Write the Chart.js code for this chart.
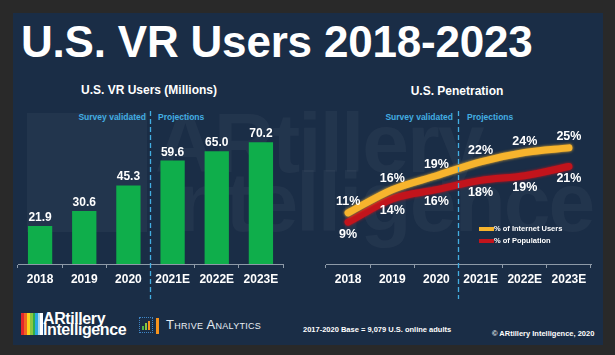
<!DOCTYPE html>
<html>
<head>
<meta charset="utf-8">
<script src="https://cdn.jsdelivr.net/npm/chart.js@4"></script>
<style>
  html, body { margin:0; padding:0; }
  body { width:615px; height:355px; background:#292929; position:relative; overflow:hidden;
         font-family:"Liberation Sans", Arial, Helvetica, sans-serif; }
  .abs { position:absolute; white-space:nowrap; }
  #panel { left:13px; top:13px; width:590px; height:332px; background:#1a2d46; }
  .wm { color:rgba(255,255,255,0.038); font-weight:bold; font-size:84px; line-height:84px; letter-spacing:-2px; }
  #wmblock { left:27px; top:113px; width:120px; height:119px; background:rgba(255,255,255,0.04); }
  #title { left:21px; top:20px; font-size:44px; line-height:44px; font-weight:bold; color:#fff; letter-spacing:-0.2px; }
  .sub { font-size:12px; line-height:12px; font-weight:bold; color:#fff; text-align:center; width:200px; }
  .phase { font-size:8.5px; line-height:8.5px; font-weight:bold; color:#43aee2; }
  .foot { font-size:7.5px; line-height:7.5px; font-weight:bold; color:#fff; }
  canvas { position:absolute; }
  #stripes { left:21px; top:313px; width:22px; height:22px;
    background:linear-gradient(to right,#e3262b 0,#e3262b 3px,#f26522 3px,#f26522 6px,#f7d51d 6px,#f7d51d 9px,#8cc63f 9px,#8cc63f 12px,#2fae4a 12px,#2fae4a 14px,#29a9e0 14px,#29a9e0 17px,#a8d8f0 17px,#a8d8f0 19px,#ffffff 19px,#ffffff 22px); }
  .logo { font-size:16px; line-height:16px; font-weight:bold; color:#fff; letter-spacing:-0.4px; }
  #thrivebox { left:139px; top:317px; width:12px; height:14px; border:1.5px dotted #3f86c6; }
  #thrivetext { left:166px; top:318px; font-size:13px; line-height:13px; color:#e8eef4; font-variant:small-caps; letter-spacing:0.3px; }
</style>
</head>
<body>
<div id="panel" class="abs"></div>
<div id="wmblock" class="abs"></div>
<div class="abs wm" style="left:155px; top:101px;">ARtillery</div>
<div class="abs wm" style="left:155px; top:160px;">Intelligence</div>

<div id="title" class="abs">U.S. VR Users 2018-2023</div>
<div class="abs sub" style="left:49px; top:84px;">U.S. VR Users (Millions)</div>
<div class="abs sub" style="left:357px; top:85px;">U.S. Penetration</div>

<div class="abs phase" style="left:46px; width:100px; text-align:right; top:113px;">Survey validated</div>
<div class="abs phase" style="left:158px; top:113px;">Projections</div>
<div class="abs phase" style="left:353px; width:100px; text-align:right; top:113px;">Survey validated</div>
<div class="abs phase" style="left:467px; top:113px;">Projections</div>

<canvas id="barChart" width="290" height="210" style="left:13px; top:100px;"></canvas>
<canvas id="lineChart" width="300" height="210" style="left:303px; top:100px;"></canvas>

<div id="stripes" class="abs"></div>
<div class="abs logo" style="left:43px; top:311px;">ARtillery</div>
<div class="abs logo" style="left:43px; top:322px;">Intelligence</div>
<div id="thrivebox" class="abs">
  <div class="abs" style="left:2px; bottom:2px; width:2px; height:4px; background:#4cb848;"></div>
  <div class="abs" style="left:5px; bottom:2px; width:2px; height:7px; background:#8cc63f;"></div>
  <div class="abs" style="left:8px; bottom:2px; width:2px; height:9px; background:#f7941d;"></div>
</div>
<div class="abs" style="left:156px; top:318px; width:3px; height:16px; background:#f7941d;"></div>
<div id="thrivetext" class="abs">Thrive Analytics</div>
<div class="abs foot" style="left:303px; top:326px;">2017-2020 Base = 9,079 U.S. online adults</div>
<div class="abs foot" style="left:492px; top:330px;">© ARtillery Intelligence, 2020</div>

<script>
// ---- data ----
const categories = ['2018', '2019', '2020', '2021E', '2022E', '2023E'];
const vrUsersMillions = [21.9, 30.6, 45.3, 59.6, 65.0, 70.2];
const pctInternetUsers = [11, 16, 19, 22, 24, 25];
const pctPopulation = [9, 14, 16, 18, 19, 21];
const legendLabels = ['% of Internet Users', '% of Population'];
const splitAfterIndex = 2; // survey validated | projections

const FONT = '"Liberation Sans", Arial, Helvetica, sans-serif';
const AXIS = '#8e9aa8';

// dashed divider between survey and projections
const dividerPlugin = {
  id: 'divider',
  afterDraw(chart) {
    const x = chart.scales.x;
    const px = (x.getPixelForValue(splitAfterIndex) + x.getPixelForValue(splitAfterIndex + 1)) / 2;
    const ctx = chart.ctx;
    ctx.save();
    ctx.strokeStyle = '#43aee2';
    ctx.lineWidth = 1.3;
    ctx.setLineDash([5, 3]);
    ctx.beginPath();
    ctx.moveTo(px, 11);
    ctx.lineTo(px, 199);
    ctx.stroke();
    ctx.restore();
  }
};

const barLabelPlugin = {
  id: 'barLabels',
  afterDatasetsDraw(chart) {
    const ctx = chart.ctx;
    const meta = chart.getDatasetMeta(0);
    ctx.save();
    ctx.fillStyle = '#ffffff';
    ctx.font = 'bold 12px ' + FONT;
    ctx.textAlign = 'center';
    ctx.textBaseline = 'alphabetic';
    meta.data.forEach((bar, i) => {
      ctx.fillText(chart.data.datasets[0].data[i].toFixed(1), bar.x, bar.y - 5);
    });
    ctx.restore();
  }
};

new Chart(document.getElementById('barChart'), {
  type: 'bar',
  data: {
    labels: categories,
    datasets: [{
      data: vrUsersMillions,
      backgroundColor: '#0fae4b',
      barPercentage: 0.55,
      categoryPercentage: 1.0
    }]
  },
  options: {
    responsive: false,
    animation: false,
    events: [],
    plugins: { legend: { display: false }, tooltip: { enabled: false } },
    layout: { padding: { left: 5, right: 20, top: 20, bottom: 10 } },
    scales: {
      x: {
        offset: true,
        grid: { offset: true, drawOnChartArea: false, color: AXIS, tickLength: 4 },
        border: { color: AXIS, width: 1 },
        ticks: { color: '#ffffff', font: { family: FONT, size: 12, weight: 'bold' }, padding: 4 },
        afterFit(s) { s.height = 36; }
      },
      y: { display: false, min: 0, max: 83 }
    }
  },
  plugins: [barLabelPlugin, dividerPlugin]
});

const lineLabelPlugin = {
  id: 'lineLabels',
  afterDatasetsDraw(chart) {
    const ctx = chart.ctx;
    ctx.save();
    ctx.fillStyle = '#ffffff';
    ctx.font = 'bold 12.5px ' + FONT;
    ctx.textAlign = 'center';
    ctx.textBaseline = 'middle';
    chart.getDatasetMeta(0).data.forEach((pt, i) => {
      ctx.fillText(chart.data.datasets[0].data[i] + '%', pt.x, pt.y - 11);
    });
    chart.getDatasetMeta(1).data.forEach((pt, i) => {
      ctx.fillText(chart.data.datasets[1].data[i] + '%', pt.x, pt.y + 12);
    });
    // legend
    ctx.font = 'bold 7.5px ' + FONT;
    ctx.textAlign = 'left';
    chart.data.datasets.forEach((ds, i) => {
      const y = 129 + i * 12;
      ctx.strokeStyle = ds.borderColor;
      ctx.lineWidth = 4;
      ctx.lineCap = 'butt';
      ctx.beginPath();
      ctx.moveTo(176, y);
      ctx.lineTo(191, y);
      ctx.stroke();
      ctx.fillStyle = '#ffffff';
      ctx.fillText(ds.label, 191, y);
    });
    ctx.restore();
  }
};

const glowPlugin = {
  id: 'glow',
  beforeDatasetDraw(chart, args) {
    const ds = chart.data.datasets[args.index];
    chart.ctx.save();
    chart.ctx.shadowColor = ds.borderColor;
    chart.ctx.shadowBlur = 3;
  },
  afterDatasetDraw(chart) {
    chart.ctx.restore();
  }
};

new Chart(document.getElementById('lineChart'), {
  type: 'line',
  data: {
    labels: categories,
    datasets: [
      { label: legendLabels[0], data: pctInternetUsers, borderColor: '#f7b42d', borderWidth: 7,
        pointRadius: 0, tension: 0.4, cubicInterpolationMode: 'monotone', borderCapStyle: 'round', fill: false },
      { label: legendLabels[1], data: pctPopulation, borderColor: '#c2141c', borderWidth: 7,
        pointRadius: 0, tension: 0.4, cubicInterpolationMode: 'monotone', borderCapStyle: 'round', fill: false }
    ]
  },
  options: {
    responsive: false,
    animation: false,
    events: [],
    plugins: { legend: { display: false }, tooltip: { enabled: false } },
    layout: { padding: { left: 23, right: 12, top: 20, bottom: 10 } },
    scales: {
      x: {
        offset: true,
        grid: { offset: true, drawOnChartArea: false, color: AXIS, tickLength: 4 },
        border: { color: AXIS, width: 1 },
        ticks: { color: '#ffffff', font: { family: FONT, size: 12, weight: 'bold' }, padding: 4 },
        afterFit(s) { s.height = 36; }
      },
      y: { display: false, min: 0, max: 31 }
    }
  },
  plugins: [glowPlugin, lineLabelPlugin, dividerPlugin]
});
</script>
</body>
</html>
